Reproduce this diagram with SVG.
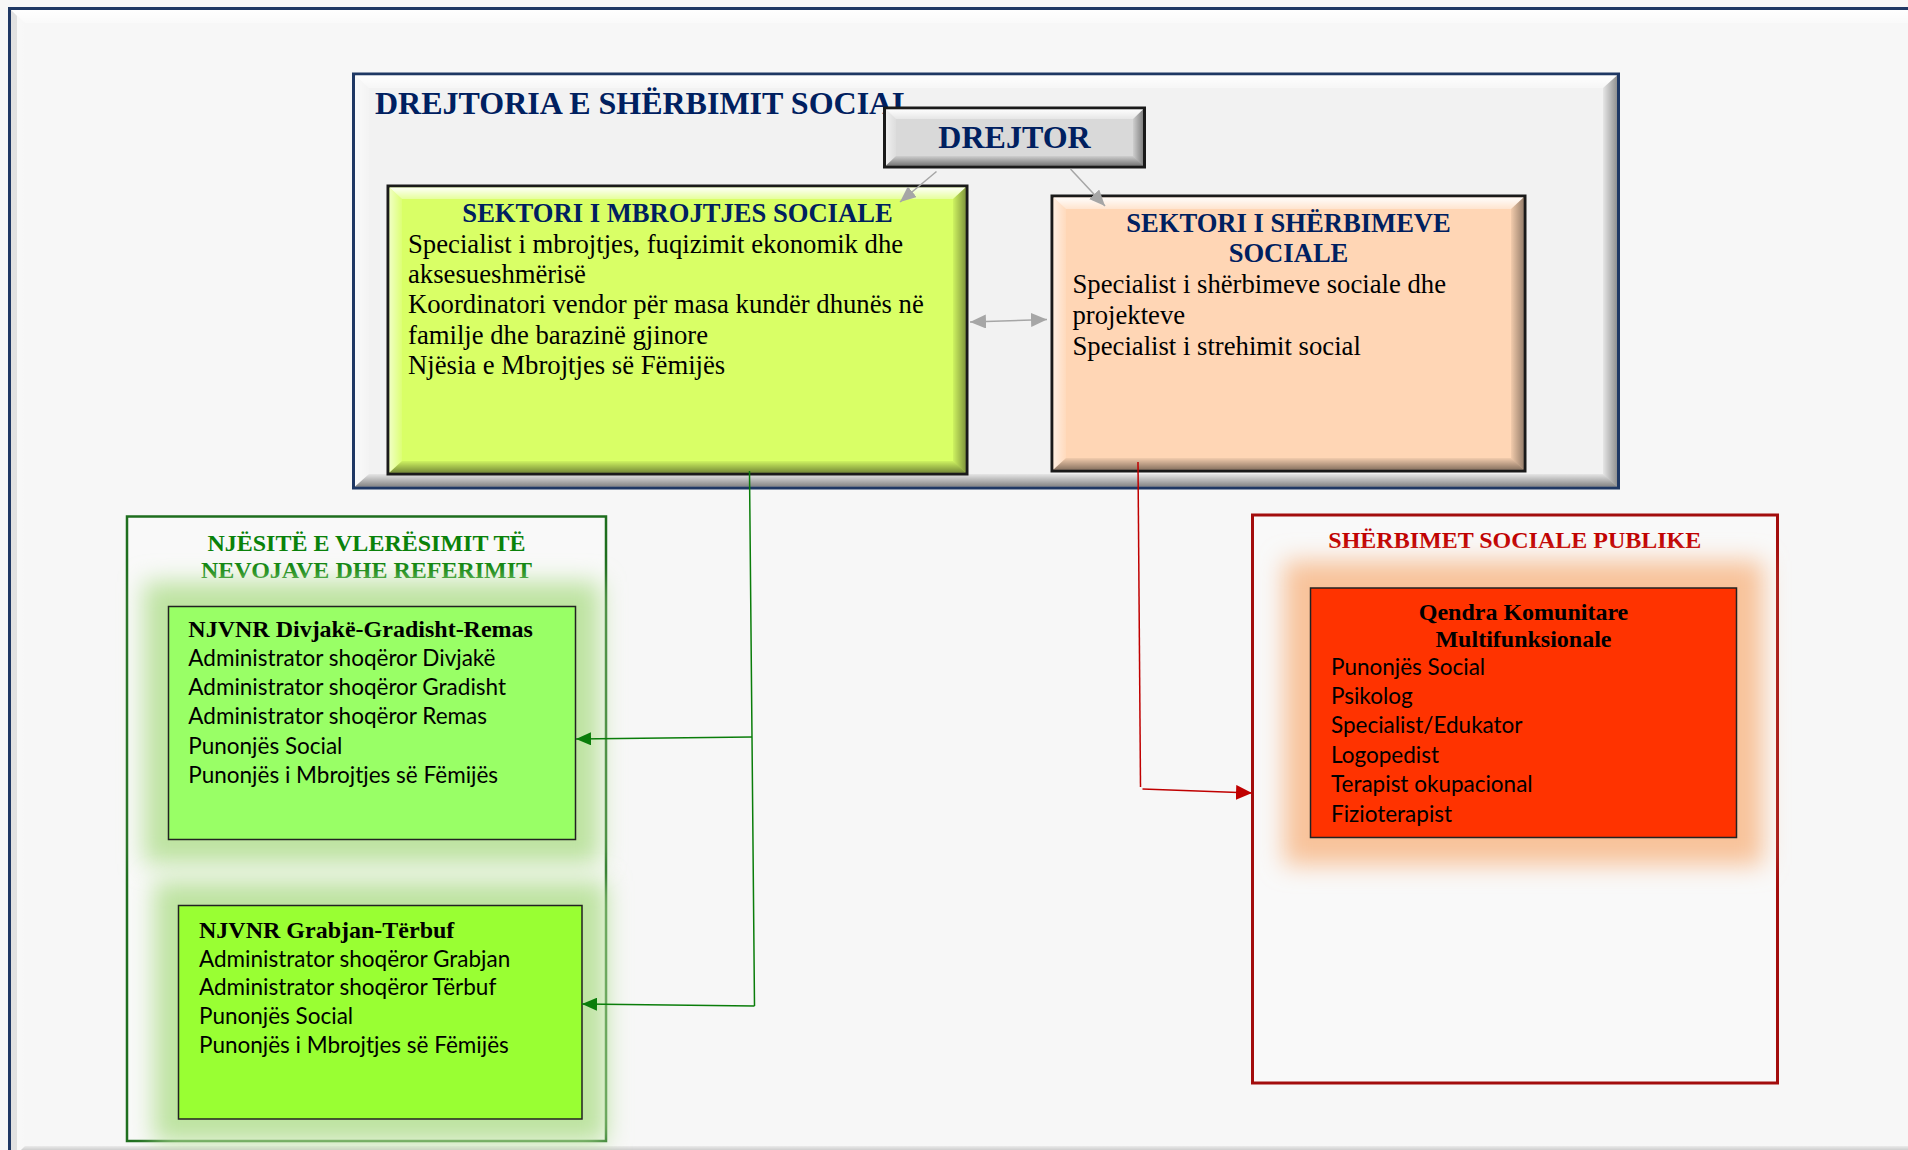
<svg xmlns="http://www.w3.org/2000/svg" width="1908" height="1150" viewBox="0 0 1908 1150">
<defs>
<linearGradient id="gTop" x1="0" y1="0" x2="0" y2="1"><stop offset="0" stop-color="#fff" stop-opacity="0.95"/><stop offset="1" stop-color="#fff" stop-opacity="0.35"/></linearGradient>
<linearGradient id="gLeft" x1="0" y1="0" x2="1" y2="0"><stop offset="0" stop-color="#fff" stop-opacity="0.6"/><stop offset="1" stop-color="#fff" stop-opacity="0.1"/></linearGradient>
<linearGradient id="gBottom" x1="0" y1="0" x2="0" y2="1"><stop offset="0" stop-color="#000" stop-opacity="0.05"/><stop offset="1" stop-color="#000" stop-opacity="0.45"/></linearGradient>
<linearGradient id="gRight" x1="0" y1="0" x2="1" y2="0"><stop offset="0" stop-color="#000" stop-opacity="0.05"/><stop offset="1" stop-color="#000" stop-opacity="0.4"/></linearGradient>
<filter id="blur" x="-20%" y="-20%" width="140%" height="140%"><feGaussianBlur stdDeviation="12"/></filter>
<marker id="arGray" viewBox="0 0 16 14" refX="16" refY="7" markerWidth="16" markerHeight="14" markerUnits="userSpaceOnUse" orient="auto-start-reverse"><path d="M0,0 L16,7 L0,14 z" fill="#a6a6a6"/></marker>
<marker id="arGreen" viewBox="0 0 15 13" refX="15" refY="6.5" markerWidth="15" markerHeight="13" markerUnits="userSpaceOnUse" orient="auto"><path d="M0,0 L15,6.5 L0,13 z" fill="#0a7d0a"/></marker>
<marker id="arRed" viewBox="0 0 16 15" refX="16" refY="7.5" markerWidth="16" markerHeight="15" markerUnits="userSpaceOnUse" orient="auto"><path d="M0,0 L16,7.5 L0,15 z" fill="#c00000"/></marker>
</defs>
<style>
.sans{font-family:Lato,"Open Sans",sans-serif;font-size:22.5px;fill:#000}
.navyB{font-family:"Liberation Serif",serif;font-weight:bold;fill:#002060}
.body{font-family:"Liberation Serif",serif;font-size:26.7px;fill:#000}
.bt{font-family:"Liberation Serif",serif;font-weight:bold;font-size:24px}
.bvT{fill:url(#gTop)}
.bvL{fill:url(#gLeft)}
.bvB{fill:url(#gBottom)}
.bvR{fill:url(#gRight)}
.con{fill:none;stroke-width:1.5}
</style>
<rect x="0" y="0" width="1908" height="1150" fill="#f7f7f7"/>
<g id="page">
<rect x="9.5" y="8.5" width="1920" height="1152" fill="#f7f7f7" stroke="#1f3864" stroke-width="3"/>
<polygon class="bvT" points="11,10 1908,10 1908,23 25,23"/>
<polygon class="bvL" points="11,10 25,23 25,1146 11,1160" opacity="0.5"/>
<polygon points="11,10 17,16 17,1152 11,1158" fill="#d0d0d0" opacity="0.6"/>
<polygon class="bvB" points="11,1160 25,1146 1908,1146 1908,1160"/>
</g>
<g id="directorate">
<rect x="353.5" y="74" width="1265" height="414" fill="#f2f2f2" stroke="#1f3864" stroke-width="3"/>
<polygon class="bvT" points="355,75.5 1617,75.5 1603,88 369,88"/>
<polygon class="bvL" points="355,75.5 369,88 369,474 355,486.5"/>
<polygon class="bvB" points="355,486.5 369,474 1603,474 1617,486.5"/>
<polygon class="bvR" points="1617,75.5 1617,486.5 1603,474 1603,88"/>
<text x="375" y="114" class="navyB" font-size="32">DREJTORIA E SHËRBIMIT SOCIAL</text>
</g>
<g id="sektori-mbrojtjes">
<rect x="388" y="186" width="579" height="288" fill="#d9ff66" stroke="#1a1a1a" stroke-width="3"/>
<polygon class="bvT" points="389.5,187.5 965.5,187.5 953,199 402,199"/>
<polygon class="bvL" points="389.5,187.5 402,199 402,461 389.5,472.5"/>
<polygon class="bvB" points="389.5,472.5 402,461 953,461 965.5,472.5"/>
<polygon class="bvR" points="965.5,187.5 965.5,472.5 953,461 953,199"/>
<text x="677.5" y="222" class="navyB" font-size="26.6" text-anchor="middle">SEKTORI I MBROJTJES SOCIALE</text>
<text class="body"><tspan x="408" y="252.5">Specialist i mbrojtjes, fuqizimit ekonomik dhe</tspan><tspan x="408" y="282.5">aksesueshmërisë</tspan><tspan x="408" y="313.3">Koordinatori vendor për masa kundër dhunës në</tspan><tspan x="408" y="344">familje dhe barazinë gjinore</tspan><tspan x="408" y="374.3">Njësia e Mbrojtjes së Fëmijës</tspan></text>
</g>
<g id="sektori-sherbimeve">
<rect x="1052" y="196" width="473" height="275" fill="#ffd6b5" stroke="#1a1a1a" stroke-width="3"/>
<polygon class="bvT" points="1053.5,197.5 1523.5,197.5 1511,209 1066,209"/>
<polygon class="bvL" points="1053.5,197.5 1066,209 1066,458 1053.5,469.5"/>
<polygon class="bvB" points="1053.5,469.5 1066,458 1511,458 1523.5,469.5"/>
<polygon class="bvR" points="1523.5,197.5 1523.5,469.5 1511,458 1511,209"/>
<text class="navyB" font-size="26.6" text-anchor="middle"><tspan x="1288.5" y="232.2">SEKTORI I SHËRBIMEVE</tspan><tspan x="1288.5" y="262.2">SOCIALE</tspan></text>
<text class="body"><tspan x="1072.5" y="293.3">Specialist i shërbimeve sociale dhe</tspan><tspan x="1072.5" y="324">projekteve</tspan><tspan x="1072.5" y="354.7">Specialist i strehimit social</tspan></text>
</g>
<g id="drejtor">
<rect x="884.5" y="108" width="260" height="59" fill="#d9d9d9" stroke="#1a1a1a" stroke-width="3"/>
<polygon class="bvT" points="886,109.5 1143,109.5 1133,119 896,119"/>
<polygon class="bvL" points="886,109.5 896,119 896,156 886,165.5"/>
<polygon class="bvB" points="886,165.5 896,156 1133,156 1143,165.5"/>
<polygon class="bvR" points="1143,109.5 1143,165.5 1133,156 1133,119"/>
<text x="1014.5" y="148" class="navyB" font-size="32" text-anchor="middle">DREJTOR</text>
</g>
<g id="njesite-group">
<rect x="127" y="516.5" width="479" height="624.5" fill="#f9f9f9" stroke="#1e6e1e" stroke-width="2.5"/>
<text class="bt" fill="#0a820a" text-anchor="middle"><tspan x="366.5" y="550.7">NJËSITË E VLERËSIMIT TË</tspan><tspan x="366.5" y="577.7">NEVOJAVE DHE REFERIMIT</tspan></text>
</g>
<g id="njvnr-divjake">
<rect x="144" y="582" width="456" height="282" fill="#bde3a0" filter="url(#blur)"/>
<rect x="168.5" y="606.5" width="407" height="233" fill="#99ff66" stroke="#222" stroke-width="1.5"/>
<text x="188.3" y="637.3" class="bt" fill="#000">NJVNR Divjakë-Gradisht-Remas</text>
<text class="sans"><tspan x="188.3" y="666">Administrator shoqëror Divjakë</tspan><tspan x="188.3" y="695">Administrator shoqëror Gradisht</tspan><tspan x="188.3" y="724.3">Administrator shoqëror Remas</tspan><tspan x="188.3" y="754">Punonjës Social</tspan><tspan x="188.3" y="783.3">Punonjës i Mbrojtjes së Fëmijës</tspan></text>
</g>
<g id="njvnr-grabjan">
<rect x="154" y="881" width="452" height="262" fill="#bde3a0" filter="url(#blur)"/>
<rect x="178.5" y="905.5" width="403.5" height="213.5" fill="#99ff33" stroke="#222" stroke-width="1.5"/>
<text x="199" y="938.3" class="bt" fill="#000">NJVNR Grabjan-Tërbuf</text>
<text class="sans"><tspan x="199" y="966.7">Administrator shoqëror Grabjan</tspan><tspan x="199" y="995">Administrator shoqëror Tërbuf</tspan><tspan x="199" y="1024">Punonjës Social</tspan><tspan x="199" y="1052.7">Punonjës i Mbrojtjes së Fëmijës</tspan></text>
</g>
<g id="sherbimet-group">
<rect x="1252.5" y="515" width="525" height="568" fill="#f9f9f9" stroke="#a30d0d" stroke-width="3"/>
<text x="1514.8" y="548.3" class="bt" fill="#c00000" text-anchor="middle">SHËRBIMET SOCIALE PUBLIKE</text>
</g>
<g id="qendra">
<rect x="1284" y="561" width="479" height="304" fill="#f8c29a" filter="url(#blur)"/>
<rect x="1310.5" y="588" width="426" height="249.5" fill="#ff3300" stroke="#222" stroke-width="1.5"/>
<text class="bt" fill="#000" text-anchor="middle"><tspan x="1523.5" y="620">Qendra Komunitare</tspan><tspan x="1523.5" y="646.7">Multifunksionale</tspan></text>
<text class="sans"><tspan x="1331" y="675">Punonjës Social</tspan><tspan x="1331" y="704">Psikolog</tspan><tspan x="1331" y="733.3">Specialist/Edukator</tspan><tspan x="1331" y="762.7">Logopedist</tspan><tspan x="1331" y="792.3">Terapist okupacional</tspan><tspan x="1331" y="821.7">Fizioterapist</tspan></text>
</g>
<g id="connectors">
<line x1="936.5" y1="171.5" x2="900" y2="202" class="con" stroke="#a6a6a6" marker-end="url(#arGray)"/>
<line x1="1070.5" y1="169" x2="1105" y2="206" class="con" stroke="#a6a6a6" marker-end="url(#arGray)"/>
<line x1="970" y1="322" x2="1047" y2="319.5" class="con" stroke="#a6a6a6" marker-start="url(#arGray)" marker-end="url(#arGray)"/>
<polyline points="749.5,471 752,737 754.5,1006" class="con" stroke="#0a7d0a"/>
<line x1="752" y1="737" x2="576" y2="739" class="con" stroke="#0a7d0a" marker-end="url(#arGreen)"/>
<line x1="754.5" y1="1006" x2="582" y2="1004" class="con" stroke="#0a7d0a" marker-end="url(#arGreen)"/>
<polyline points="1138,462 1140.5,787" class="con" stroke="#c00000"/>
<line x1="1142.5" y1="789" x2="1252" y2="793" class="con" stroke="#c00000" marker-end="url(#arRed)"/>
</g>
</svg>
